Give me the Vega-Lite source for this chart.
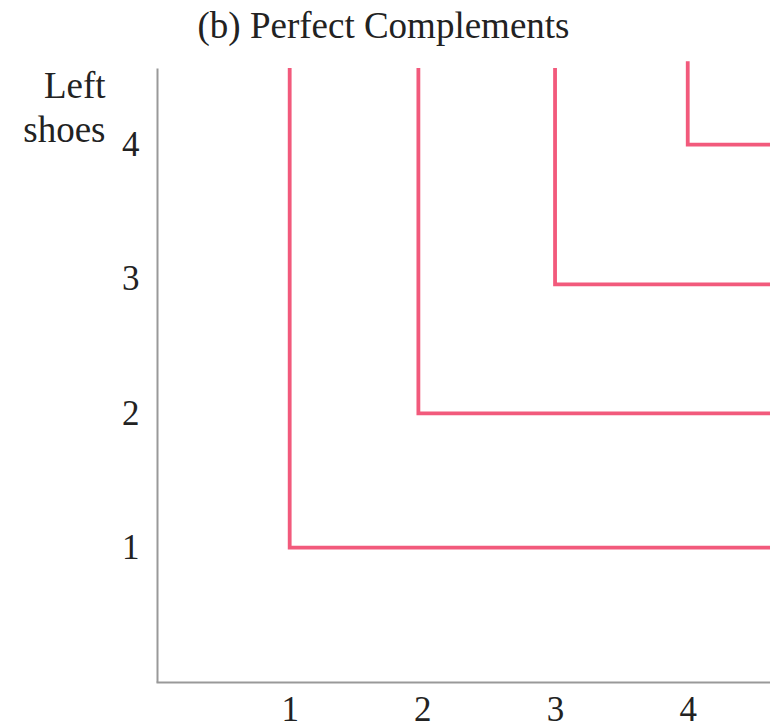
{
  "$schema": "https://vega.github.io/schema/vega-lite/v6.json",
  "width": 613,
  "height": 614,
  "autosize": {"type": "none"},
  "padding": {"left": 157, "top": 68, "right": 0, "bottom": 46},
  "background": "white",
  "title": {
    "text": "(b) Perfect Complements",
    "font": "Liberation Serif",
    "fontSize": 37,
    "fontWeight": "normal",
    "color": "#222",
    "anchor": "middle",
    "frame": "group",
    "dx": -80,
    "offset": 8
  },
  "config": {
    "view": {"stroke": null},
    "axis": {
      "grid": false,
      "ticks": false,
      "domainColor": "#999",
      "domainWidth": 2,
      "labelFont": "Liberation Serif",
      "labelFontSize": 35,
      "labelColor": "#222",
      "titleFont": "Liberation Serif",
      "titleFontWeight": "normal",
      "titleColor": "#222"
    }
  },
  "data": {
    "values": [
      {"c": 1, "o": 0, "x": 1, "y": 4.57},
      {"c": 1, "o": 1, "x": 1, "y": 1},
      {"c": 1, "o": 2, "x": 4.62, "y": 1},
      {"c": 2, "o": 0, "x": 1.97, "y": 4.57},
      {"c": 2, "o": 1, "x": 1.97, "y": 2},
      {"c": 2, "o": 2, "x": 4.62, "y": 2},
      {"c": 3, "o": 0, "x": 3, "y": 4.57},
      {"c": 3, "o": 1, "x": 3, "y": 2.96},
      {"c": 3, "o": 2, "x": 4.62, "y": 2.96},
      {"c": 4, "o": 0, "x": 4, "y": 4.62},
      {"c": 4, "o": 1, "x": 4, "y": 4},
      {"c": 4, "o": 2, "x": 4.62, "y": 4}
    ]
  },
  "mark": {"type": "line", "color": "#f25a7c", "strokeWidth": 3.8, "clip": false, "strokeJoin": "miter", "strokeCap": "butt"},
  "encoding": {
    "x": {
      "field": "x", "type": "quantitative",
      "scale": {"domain": [0, 4.62], "nice": false, "zero": true},
      "axis": {"values": [1, 2, 3, 4], "title": null, "labelPadding": 10, "domainCap": "square"}
    },
    "y": {
      "field": "y", "type": "quantitative",
      "scale": {"domain": [0, 4.57], "nice": false, "zero": true},
      "axis": {
        "values": [1, 2, 3, 4], "labelPadding": 18,
        "title": ["Left", "shoes"],
        "titleAngle": 0, "titleAlign": "right", "titleBaseline": "alphabetic",
        "titleX": -52, "titleY": 29, "titleFontSize": 37, "titleLineHeight": 44
      }
    },
    "detail": {"field": "c"},
    "order": {"field": "o"}
  }
}
